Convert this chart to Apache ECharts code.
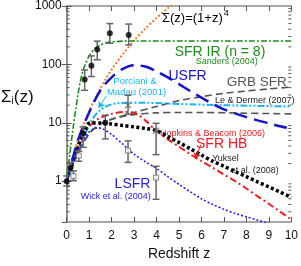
<!DOCTYPE html>
<html><head><meta charset="utf-8">
<script src="https://cdn.jsdelivr.net/npm/echarts@6/dist/echarts.min.js"></script>
<style>html,body{margin:0;padding:0;background:#fff}#c{width:301px;height:266px}</style>
</head><body><div id="c"></div>
<script>
// ---- data ----
const xTicks = [0,1,2,3,4,5,6,7,8,9,10];
const yMajorTicks = [1,10,100,1000];
const yMinorTicks = [0.3,0.4,0.5,0.6,0.7,0.8,0.9,2,3,4,5,6,7,8,9,20,30,40,50,60,70,80,90,200,300,400,500,600,700,800,900];

const sigma4 = [[0,1],[0.25,2.4],[0.5,5.1],[0.75,9.4],[1,16],[1.25,25.5],[1.5,39],[1.75,57],[2,81],[2.5,150],[3,256],[3.5,410],[4,625],[4.5,915],[5,1300]];
const sfrIR = [[0,1.2],[0.1,2.2],[0.2,4.5],[0.3,9],[0.4,17],[0.5,30],[0.6,50],[0.7,72],[0.8,95],[1,140],[1.25,185],[1.5,215],[1.75,235],[2,243],[2.5,250],[3,252],[10,252]];
const usfr = [[0,1],[0.5,5],[1,15],[1.5,36],[2,60],[2.5,84],[3,97],[3.5,92],[4,76],[4.5,60],[5,46],[5.5,35],[6,27],[6.5,21],[7,17],[7.5,14.5],[8,12.5],[8.5,11],[9,9.8],[9.5,8.7],[9.8,8.2]];
const porciani = [[0,1],[0.3,2.1],[0.6,4.2],[0.9,7.5],[1.2,12.5],[1.5,16.5],[1.8,19.5],[2.2,21.5],[2.7,22],[3.5,22],[5,21],[7,20],[10,19]];
const grbUpper = [[0,1],[0.5,3],[1,6.5],[1.5,9.5],[2,11.5],[3,15],[4,19],[5,24],[6,28],[7,32],[8,35],[9,38],[10,41]];
const grbLower = [[0,1],[0.5,3],[1,6.5],[1.5,9.5],[2,11.5],[2.5,12.8],[3,13.8],[4,14.8],[5,15],[6,15],[8,14.6],[10,14.2]];
const sfrHB = [[0,1],[0.3,2.4],[0.6,4.8],[0.9,7.8],[1.2,10.3],[1.5,12.2],[2,14.2],[2.5,15.3],[3,14.8],[3.5,11],[4,7.2],[4.5,5.2],[5,3.9],[5.5,2.9],[6,2.2],[6.5,1.7],[7,1.3],[7.5,1.0],[8,0.75],[8.5,0.55],[9,0.41],[9.5,0.3],[10,0.22]];
const yuksel = [[0,1],[0.2,1.8],[0.4,3.1],[0.6,5],[0.8,7.3],[1,9.8],[1.5,9.9],[2,9.5],[2.5,9],[3,8.5],[3.5,8],[4,7.4],[4.5,5.8],[5,4.6],[5.5,3.6],[6,2.8],[6.5,2.2],[7,1.8],[7.5,1.45],[8,1.2],[8.5,0.97],[9,0.8],[9.5,0.65],[10,0.53]];
const lsfr = [[0,0.9],[0.2,1.6],[0.4,2.6],[0.6,4],[0.8,5.6],[1,7],[1.2,7.9],[1.4,8.2],[1.6,7.9],[2,6.3],[2.5,4.3],[3,2.9],[3.5,2.15],[4,1.65],[4.5,1.2],[5,0.88],[5.5,0.66],[6,0.5],[6.5,0.4],[7,0.33],[7.5,0.28],[8,0.245],[8.5,0.215],[9,0.19]];

// points: [z, value, low, high]
const ptsFilled = [[0.8,55,36,80],[1.1,95,62,140],[1.36,180,120,250],[1.92,340,230,500],[2.76,320,215,490],[0,1.0,0.83,1.23],[0.17,1.7,1.5,2.1],[0.73,6.6,3.8,8.5],[1.72,10,5.3,13.5]];
const ptsCross = [[2.73,20,14,29.6],[3.98,7.3,2.85,9.8]];
const ptsOpen = [[0.3,1.22,1.02,1.5],[0.54,2.75,2.2,3.25],[2.73,3.35,2.1,4.9],[3.98,1.15,0.49,1.8]];

const FONT = 'Liberation Sans, Arial, Helvetica, sans-serif';
const chart = echarts.init(document.getElementById('c'), null, {renderer:'canvas'});

function lineSeries(data, color, width, dash, extra){
  return Object.assign({type:'line', data:data, showSymbol:false, smooth:0.3, xAxisIndex:0, yAxisIndex:0,
    lineStyle:{color:color, width:width, type:dash, cap:'butt'}, silent:true, z:2}, extra||{});
}
function errSeries(data){
  return {type:'custom', data:data, xAxisIndex:0, yAxisIndex:0, encode:{x:0,y:1}, z:4, silent:true,
    renderItem:function(params, api){
      const z = api.value(0), p1 = api.coord([z, api.value(2)]), p2 = api.coord([z, api.value(3)]);
      const w = 3.5, st = {stroke:'#666', lineWidth:1.5};
      return {type:'group', children:[
        {type:'line', shape:{x1:p1[0],y1:p1[1],x2:p2[0],y2:p2[1]}, style:st},
        {type:'line', shape:{x1:p1[0]-w,y1:p1[1],x2:p1[0]+w,y2:p1[1]}, style:st},
        {type:'line', shape:{x1:p2[0]-w,y1:p2[1],x2:p2[0]+w,y2:p2[1]}, style:st}
      ]};
    }};
}
const minorTickSeries = {type:'custom', data:yMinorTicks.map(v=>[0,v]), xAxisIndex:0, yAxisIndex:0, encode:{x:0,y:1}, z:5, silent:true,
  renderItem:function(params, api){
    const v = api.value(1), l = api.coord([0, v]), r = api.coord([10, v]);
    const st = {stroke:'#555', lineWidth:1};
    return {type:'group', children:[
      {type:'line', shape:{x1:l[0],y1:l[1],x2:l[0]+3,y2:l[1]}, style:st},
      {type:'line', shape:{x1:r[0],y1:r[1],x2:r[0]-3,y2:r[1]}, style:st}
    ]};
  }};

function txt(x, y, text, color, size){
  return {type:'text', x:x, y:y, silent:true, style:{text:text, fill:color, font:size+'px '+FONT, textAlign:'center', textVerticalAlign:'middle'}};
}

const axisLineStyle = {color:'#8a8a8a', width:1.5};
const tickStyle = {color:'#555', width:1};

chart.setOption({
  animation:false,
  backgroundColor:'#fff',
  grid:{left:66.7, right:8.3, top:5, bottom:41.3, containLabel:false},
  xAxis:[
    {type:'value', min:0, max:10, interval:1, position:'bottom',
      axisLine:{show:true, lineStyle:axisLineStyle}, axisTick:{show:true, inside:true, length:5, lineStyle:tickStyle},
      axisLabel:{show:true, fontSize:12, color:'#111', margin:8, fontFamily:FONT, formatter:function(v){return xTicks.indexOf(v)>=0?String(v):'';}},
      splitLine:{show:false},
      name:'Redshift z', nameLocation:'middle', nameGap:25, nameTextStyle:{fontSize:14, color:'#111', fontFamily:FONT}},
    {type:'value', min:0, max:10, interval:1, position:'top',
      axisLine:{show:true, lineStyle:axisLineStyle}, axisTick:{show:true, inside:true, length:5, lineStyle:tickStyle},
      axisLabel:{show:false}, splitLine:{show:false}}
  ],
  yAxis:[
    {type:'log', min:0.2, max:1000, logBase:10, position:'left',
      axisLine:{show:true, lineStyle:axisLineStyle}, axisTick:{show:true, inside:true, length:5, lineStyle:tickStyle},
      axisLabel:{show:true, fontSize:12, color:'#111', margin:5, fontFamily:FONT, showMinLabel:false,
        formatter:function(v){return yMajorTicks.indexOf(v)>=0?String(v):'';}},
      splitLine:{show:false}},
    {type:'log', min:0.2, max:1000, logBase:10, position:'right',
      axisLine:{show:true, lineStyle:axisLineStyle}, axisTick:{show:true, inside:true, length:5, lineStyle:tickStyle},
      axisLabel:{show:false}, splitLine:{show:false}}
  ],
  series:[
    lineSeries(grbUpper, '#555555', 1.6, [7,4]),
    lineSeries(grbLower, '#555555', 1.6, [7,4]),
    lineSeries(porciani, '#1cb4f0', 2, [7,2,2,2,2,2], {markLine:{silent:true, symbol:['none','arrow'], symbolSize:6, label:{show:false},
      lineStyle:{color:'#1cb4f0', type:'solid', width:1}, data:[[{coord:[1.77,29]},{coord:[1.42,18]}]]}}),
    lineSeries(sfrHB, '#ee1c1c', 2, [7,3,2,3], {markLine:{silent:true, symbol:['none','arrow'], symbolSize:6, label:{show:false},
      lineStyle:{color:'#ee1c1c', type:'solid', width:1}, data:[[{coord:[5.97,4.2]},{coord:[5.72,2.4]}]]}}),
    lineSeries(yuksel, '#000000', 3.5, [3,2.5]),
    lineSeries(lsfr, '#2424dc', 1.6, [2,2]),
    lineSeries(sigma4, '#f47a2a', 2, [2,2]),
    lineSeries(usfr, '#1414c8', 2.5, [14,7]),
    lineSeries(sfrIR, '#1d8a1d', 1.6, [6,2,2,2]),
    errSeries(ptsFilled), errSeries(ptsCross), errSeries(ptsOpen),
    {type:'scatter', data:ptsFilled.map(p=>[p[0],p[1]]), symbol:'circle', symbolSize:6, itemStyle:{color:'#000'}, z:6, silent:true},
    {type:'scatter', data:ptsCross.map(p=>[p[0],p[1]]), symbol:'path://M0,0L10,10M10,0L0,10', symbolSize:6, itemStyle:{color:'none', borderColor:'#666', borderWidth:1.2}, z:6, silent:true},
    {type:'scatter', data:ptsOpen.map(p=>[p[0],p[1]]), symbol:'rect', symbolSize:5, itemStyle:{color:'#fff', borderColor:'#666', borderWidth:1}, z:6, silent:true},
    minorTickSeries
  ],
  graphic:[
    {type:'text', x:1, y:97, silent:true, style:{text:'{a|Σ}{b|i}{a|(z)}', textVerticalAlign:'middle', textAlign:'left',
      rich:{a:{fontSize:17, fontFamily:FONT, fill:'#111', color:'#111'}, b:{fontSize:10, fontFamily:FONT, color:'#111', fill:'#111', verticalAlign:'bottom', padding:[9,0,0,0]}}}},
    {type:'text', x:162, y:18, silent:true, style:{text:'{a|Σ(z)=(1+z)}{b|4}', textVerticalAlign:'middle', textAlign:'left',
      rich:{a:{fontSize:13, fontFamily:FONT, color:'#f47a2a'}, b:{fontSize:9, fontFamily:FONT, color:'#f47a2a', verticalAlign:'top', padding:[0,0,8,1]}}}},
    txt(220, 52.5, 'SFR IR (n = 8)', '#1d8a1d', 14),
    txt(226.7, 62, 'Sanders (2004)', '#1d8a1d', 9),
    txt(187.5, 76, 'USFR', '#1414c8', 14),
    txt(135, 81.5, 'Porciani &', '#1cb4f0', 9.5),
    txt(136.5, 92.5, 'Madau (2001)', '#1cb4f0', 9.5),
    txt(256.7, 82.5, 'GRB SFR', '#555', 13.5),
    txt(254.7, 100.3, 'Le & Dermer (2007)', '#222', 9),
    txt(212.5, 133.3, 'Hopkins & Beacom (2006)', '#ee1c1c', 9),
    txt(221.7, 144, 'SFR HB', '#ee1c1c', 14),
    txt(225.5, 158.8, 'Yuksel', '#222', 9),
    txt(254.8, 170.3, 'et al. (2008)', '#222', 9),
    txt(132.5, 184, 'LSFR', '#2424dc', 14),
    txt(115.8, 196.7, 'Wick et al. (2004)', '#2424dc', 9)
  ]
});
</script></body></html>
